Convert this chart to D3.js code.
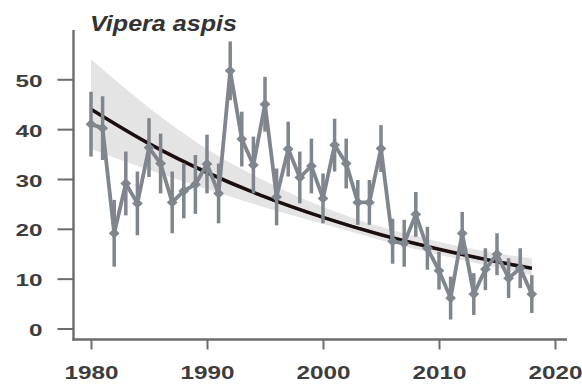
<!DOCTYPE html>
<html>
<head>
<meta charset="utf-8">
<script src="https://cdn.jsdelivr.net/npm/d3@7"></script>
<style>
  html, body { margin: 0; padding: 0; background: #fff; }
  svg { display: block; }
</style>
</head>
<body>
<svg id="chart" width="582" height="387"></svg>
<script>
// Annual counts of Vipera aspis with their error half-widths
const years = [1980, 1981, 1982, 1983, 1984, 1985, 1986, 1987, 1988, 1989,
               1990, 1991, 1992, 1993, 1994, 1995, 1996, 1997, 1998, 1999,
               2000, 2001, 2002, 2003, 2004, 2005, 2006, 2007, 2008, 2009,
               2010, 2011, 2012, 2013, 2014, 2015, 2016, 2017, 2018];
const counts = [41.0, 40.2, 19.1, 29.1, 25.1, 36.3, 33.1, 25.3, 27.6, 28.9,
                33.0, 27.1, 51.7, 38.0, 32.8, 45.0, 26.4, 36.0, 30.3, 32.6,
                26.1, 36.8, 33.1, 25.3, 25.3, 36.1, 17.5, 17.1, 22.9, 16.1,
                11.6, 6.1, 19.1, 6.9, 11.9, 14.9, 10.1, 12.1, 6.9];
const errors = [6.5, 6.4, 6.7, 6.4, 6.4, 5.9, 6.0, 6.2, 5.5, 5.9,
                5.9, 6.0, 5.9, 5.5, 5.7, 5.5, 5.7, 5.5, 5.2, 5.5,
                5.0, 5.3, 5.0, 4.5, 4.5, 4.7, 4.5, 4.7, 4.5, 4.3,
                3.8, 4.3, 4.3, 4.2, 4.2, 4.2, 4.0, 4.0, 3.8];

// Fitted decline trend and its confidence band
const fitYears = [1980, 1985, 1990, 1995, 2000, 2005, 2010, 2015, 2018];
const fitMid   = [44.0, 37.1, 31.3, 26.4, 22.3, 18.8, 15.9, 13.4, 12.1];
const fitHigh  = [54.0, 44.3, 36.0, 29.6, 24.4, 20.4, 17.4, 15.1, 14.1];
const fitLow   = [36.0, 31.8, 28.0, 24.3, 21.0, 17.7, 14.8, 12.2, 10.7];

const xTicks = [1980, 1990, 2000, 2010, 2020];
const yTicks = [0, 10, 20, 30, 40, 50];
const title = "Vipera aspis";

const svg = d3.select("#chart");
const FONT = "'Liberation Sans', Arial, Helvetica, sans-serif";
const AXIS = "#6c6c6c";
const TEXT = "#3d3d3d";
const SERIES = "#7f868d";

const x = d3.scaleLinear().domain([1980, 2020]).range([91, 555]);
const y = d3.scaleLinear().domain([0, 50]).range([328.5, 79.3]);

const axisX = 73.5, axisY = 339.5;

// confidence band
const band = fitYears.map((yr, i) => ({ yr, lo: fitLow[i], hi: fitHigh[i], mid: fitMid[i] }));
svg.append("path")
  .datum(band)
  .attr("fill", "#e4e4e4")
  .attr("d", d3.area()
    .x(d => x(d.yr))
    .y0(d => y(d.lo))
    .y1(d => y(d.hi))
    .curve(d3.curveMonotoneX));

// fitted trend
const trend = d3.line().x(d => x(d.yr)).y(d => y(d.mid)).curve(d3.curveMonotoneX);
svg.append("path")
  .datum(band)
  .attr("fill", "none")
  .attr("stroke", "#4a1515")
  .attr("stroke-width", 3.6)
  .attr("d", trend);
svg.append("path")
  .datum(band)
  .attr("fill", "none")
  .attr("stroke", "#111")
  .attr("stroke-width", 2.6)
  .attr("d", trend);

// observed series
const pts = years.map((yr, i) => ({ yr, v: counts[i], e: errors[i] }));

svg.append("g").selectAll("line")
  .data(pts)
  .join("line")
  .attr("x1", d => x(d.yr)).attr("x2", d => x(d.yr))
  .attr("y1", d => y(d.v - d.e)).attr("y2", d => y(d.v + d.e))
  .attr("stroke", SERIES)
  .attr("stroke-width", 3.5);

svg.append("path")
  .datum(pts)
  .attr("fill", "none")
  .attr("stroke", SERIES)
  .attr("stroke-width", 3.8)
  .attr("stroke-linejoin", "round")
  .attr("d", d3.line().x(d => x(d.yr)).y(d => y(d.v)));

const diamond = d3.symbol(d3.symbolDiamond, 48);
svg.append("g").selectAll("path")
  .data(pts)
  .join("path")
  .attr("d", diamond)
  .attr("transform", d => `translate(${x(d.yr)},${y(d.v)}) scale(1.45,0.8)`)
  .attr("fill", SERIES);

// axes
const gx = svg.append("g")
  .attr("transform", `translate(0,${axisY})`)
  .call(d3.axisBottom(x).tickValues(xTicks).tickFormat(d3.format("d")).tickSize(10).tickPadding(17));
gx.select(".domain").remove();
gx.selectAll(".tick line").attr("stroke", AXIS).attr("stroke-width", 2);
gx.selectAll(".tick text")
  .attr("fill", TEXT)
  .attr("font-family", FONT)
  .attr("font-weight", "bold")
  .attr("font-size", 18)
  .attr("dy", "0.71em")
  .attr("textLength", 54)
  .attr("lengthAdjust", "spacingAndGlyphs");

const gy = svg.append("g")
  .attr("transform", `translate(${axisX},0)`)
  .call(d3.axisLeft(y).tickValues(yTicks).tickSize(16).tickPadding(15));
gy.select(".domain").remove();
gy.selectAll(".tick line").attr("stroke", AXIS).attr("stroke-width", 2);
gy.selectAll(".tick text")
  .attr("fill", TEXT)
  .attr("font-family", FONT)
  .attr("font-weight", "bold")
  .attr("font-size", 17)
  .attr("dy", "0.42em")
  .attr("textLength", d => String(d).length * 13.5)
  .attr("lengthAdjust", "spacingAndGlyphs");

// axis lines
svg.append("line")
  .attr("x1", axisX).attr("x2", axisX)
  .attr("y1", 30).attr("y2", axisY + 1)
  .attr("stroke", AXIS).attr("stroke-width", 2.4);
svg.append("line")
  .attr("x1", axisX - 1).attr("x2", 567)
  .attr("y1", axisY).attr("y2", axisY)
  .attr("stroke", AXIS).attr("stroke-width", 2.6);

// title
svg.append("text")
  .attr("x", 90)
  .attr("y", 31)
  .attr("font-family", FONT)
  .attr("font-weight", "bold")
  .attr("font-style", "italic")
  .attr("font-size", 22)
  .attr("fill", "#333")
  .attr("textLength", 147)
  .attr("lengthAdjust", "spacingAndGlyphs")
  .text(title);
</script>
</body>
</html>
